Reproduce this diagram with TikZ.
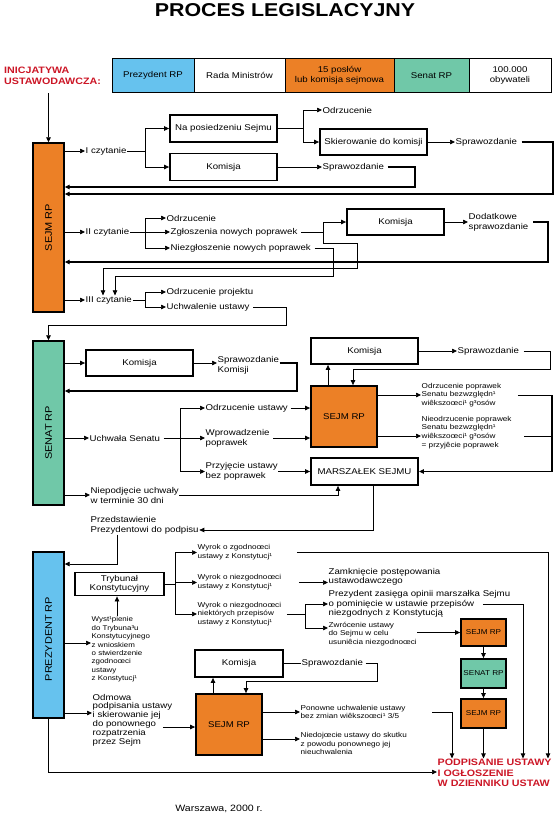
\documentclass[tikz,border=0pt]{standalone}
\usepackage{fontspec}
\setmainfont{Liberation Sans}[FakeStretch=1.15]
\usetikzlibrary{arrows.meta}
\definecolor{sejmorange}{RGB}{236,128,38}
\definecolor{prezblue}{RGB}{102,194,238}
\definecolor{senatgreen}{RGB}{112,200,168}
\definecolor{inired}{RGB}{204,22,38}
\newcommand\fmain{\fontsize{8.4}{10}\selectfont}
\newcommand\fsmall{\fontsize{7.1}{8.8}\selectfont}
\newcommand\fside{\fontsize{9.5}{11}\selectfont}
\newcommand\fred{\fontsize{9.3}{10.6}\selectfont\bfseries}
\tikzset{
  box/.style={draw, line width=1.8pt, inner sep=1pt, font=\fmain, align=center},
  sidebar/.style={draw, line width=1.4pt, minimum width=31pt},
  barbox/.style={draw, line width=1pt, minimum height=34pt, inner sep=1pt, font=\fmain, align=center},
  lbl/.style={anchor=west, inner sep=0.5pt, font=\fmain, align=left},
  slbl/.style={lbl, font=\fsmall},
  ln/.style={line width=0.7pt},
  arr/.style={ln, -{Triangle[length=5pt,width=4.5pt]}},
  ret/.style={line width=1.2pt},
}
\begin{document}
\begin{tikzpicture}[x=1pt,y=1pt,yscale=-1]
\useasboundingbox (0,0) rectangle (555,815);

%Title
\node (title) [anchor=base, font=\fontsize{18.6}{20}\selectfont\bfseries] at (285,16) {PROCES LEGISLACYJNY};

%Initiative bar
\node (initxt) [lbl, font=\fred, text=inired, inner sep=0pt] at (4,75.5) {INICJATYWA\\USTAWODAWCZA:};
\node (iprez) [barbox, fill=prezblue, minimum width=82pt] at (153,75.5) {Prezydent RP};
\node (irada) [barbox, minimum width=91pt] at (239.5,75.5) {Rada Ministrów};
\node (iposl) [barbox, fill=sejmorange, minimum width=109pt] at (339.5,75.5) {15 posłów\\lub komisja sejmowa};
\node (isen) [barbox, fill=senatgreen, minimum width=75pt] at (431.5,75.5) {Senat RP};
\node (iobyw) [barbox, minimum width=82pt] at (510,75.5) {100.000\\obywateli};
\coordinate (inistart) at (48.5,93);

%Sejm RP
\node (sejmbar) [sidebar, fill=sejmorange, minimum height=169pt] at (48.5,227.5) {};
\node (sejmtxt) [rotate=90, font=\fside] at (48.5,227.5) {SEJM RP};
\draw[arr] (inistart) -- (sejmbar.north);

%I czytanie
\node (czyt1) [lbl] at (85,151) {I czytanie};
\node (posiedz) [box, minimum width=107pt, minimum height=27pt] at (223.5,128.5) {Na posiedzeniu Sejmu};
\node (kom1) [box, minimum width=107pt, minimum height=27pt] at (223.5,167) {Komisja};
\node (odrz1) [lbl] at (322,110) {Odrzucenie};
\node (skier) [box, minimum width=107pt, minimum height=26pt] at (373.5,142) {Skierowanie do komisji};
\node (spr1) [lbl] at (455,142) {Sprawozdanie};
\node (spr2) [lbl] at (322,167) {Sprawozdanie};
\coordinate (br1) at (145,151);
\coordinate (br2) at (303,128.5);
\draw[arr] (sejmbar.east |- czyt1.west) -- (czyt1.west);
\draw[ln] (czyt1.east) -- (br1);
\draw[arr] (br1) |- (posiedz.west);
\draw[arr] (br1) |- (kom1.west);
\draw[ln] (posiedz.east) -- (br2);
\draw[arr] (br2) |- (odrz1.west);
\draw[arr] (br2) |- (skier.west);
\draw[arr] (skier.east) -- (spr1.west);
\draw[arr] (kom1.east) -- (spr2.west);
\draw[arr,ret,shorten <=4pt] (spr1.east) -- (553,142) |- (sejmbar.east |- 0,194);
\draw[arr,ret,shorten <=3pt] (spr2.east) -- (415,167) |- (sejmbar.east |- 0,187);

%II czytanie
\node (czyt2) [lbl] at (85,232) {II czytanie};
\node (odrz2) [lbl] at (166,218) {Odrzucenie};
\node (zglo) [lbl] at (170,232) {Zgłoszenia nowych poprawek};
\node (niezglo) [lbl] at (170,248) {Niezgłoszenie nowych poprawek};
\node (kom2) [box, minimum width=97pt, minimum height=26pt] at (395.5,222) {Komisja};
\node (dodat) [lbl] at (468,222) {Dodatkowe\\sprawozdanie};
\coordinate (br3) at (145,232);
\coordinate (br4) at (323,232);
\draw[arr] (sejmbar.east |- czyt2.west) -- (czyt2.west);
\draw[ln] (czyt2.east) -- (br3);
\draw[arr] (br3) |- (odrz2.west);
\draw[arr] (br3) -- (zglo.west);
\draw[arr] (br3) |- (niezglo.west);
\draw[ln,shorten <=3pt] (zglo.east) -- (br4);
\draw[arr] (br4) |- (kom2.west);
\draw[arr] (kom2.east) -- (dodat.west);
\draw[arr,ret,shorten <=4pt] (dodat.east) -| (548,262) -- (sejmbar.east |- 0,262);

%III czytanie
\node (czyt3) [lbl] at (85,300) {III czytanie};
\node (odrzproj) [lbl] at (166,292) {Odrzucenie projektu};
\node (uchw) [lbl] at (166,307) {Uchwalenie ustawy};
\coordinate (br5) at (145,300);
\draw[arr] (br4) -- (323,243) -- (357,243) |- (103,268) -- (103,0 |- czyt3.north);
\draw[arr,shorten <=3pt] (niezglo.east) -- (333,248) |- (115,276) -- (115,0 |- czyt3.north);
\draw[arr] (sejmbar.east |- czyt3.west) -- (czyt3.west);
\draw[ln] (czyt3.east) -- (br5);
\draw[arr] (br5) |- (odrzproj.west);
\draw[arr] (br5) |- (uchw.west);

%Senat RP
\node (senatbar) [sidebar, fill=senatgreen, minimum height=164pt] at (48.5,423) {};
\node (senattxt) [rotate=90, font=\fside] at (48.5,433) {SENAT RP};
\draw[arr,shorten <=3pt] (uchw.east) -- (286,307) |- (48.5,325) -- (senatbar.north);
\node (kom3) [box, minimum width=107pt, minimum height=26pt] at (139.5,363) {Komisja};
\node (sprkom) [lbl] at (217,365) {Sprawozdanie\\Komisji};
\draw[arr] (senatbar.east |- kom3.west) -- (kom3.west);
\draw[arr] (kom3.east) -- (kom3.east -| sprkom.west);
\draw[arr,ret] (kom3.east -| sprkom.east) -- (297,363) |- (senatbar.east |- 0,391);

\node (uchsen) [lbl] at (89,438) {Uchwała Senatu};
\node (odrzust) [lbl] at (205,408) {Odrzucenie ustawy};
\node (wprow) [lbl] at (205,438) {Wprowadzenie\\poprawek};
\node (przyj) [lbl] at (205,471.5) {Przyjęcie ustawy\\bez poprawek};
\node (niepodj) [lbl] at (90,495) {Niepodjęcie uchwały\\w terminie 30 dni};
\coordinate (br6) at (180,438);
\draw[arr] (senatbar.east |- uchsen.west) -- (uchsen.west);
\draw[ln,shorten <=3pt] (uchsen.east) -- (br6);
\draw[arr] (br6) |- (odrzust.west);
\draw[arr] (br6) -- (wprow.west);
\draw[arr] (br6) |- (przyj.west);
\draw[arr] (senatbar.east |- niepodj.west) -- (niepodj.west);

%Sejm RP after the Senate
\node (sejm2) [box, fill=sejmorange, minimum width=66pt, minimum height=61pt] at (344,416.5) {SEJM RP};
\node (kom4) [box, minimum width=107pt, minimum height=26pt] at (364.5,351) {Komisja};
\node (marsz) [box, minimum width=107pt, minimum height=27pt] at (364.5,471.5) {MARSZAŁEK SEJMU};
\node (spr3) [lbl] at (457,351) {Sprawozdanie};
\node (odrzpop) [slbl] at (421,395) {Odrzucenie poprawek\\Senatu bezwzględn¹\\wiêkszoœci¹ g³osów};
\node (nieodrz) [slbl] at (421,432.5) {Nieodrzucenie poprawek\\Senatu bezwzględn¹\\wiêkszoœci¹ g³osów\\= przyjêcie poprawek};
\draw[arr,shorten <=2pt] (odrzust.east) -- (odrzust.east -| sejm2.west);
\draw[arr,shorten <=3pt] (wprow.east) -- (wprow.east -| sejm2.west);
\draw[arr] (przyj.east) -- (marsz.west);
\draw[arr] (niepodj.east) -| (338,0 |- marsz.south);
\draw[arr] (328,0 |- sejm2.north) -- (328,0 |- kom4.south);
\draw[arr] (kom4.east) -- (spr3.west);
\draw[arr,shorten <=4pt] (spr3.east) -- (550,351) |- (353,369) -- (353,0 |- sejm2.north);
\draw[arr] (sejm2.east |- odrzpop.west) -- (odrzpop.west);
\draw[arr] (sejm2.east |- 0,436) -- (nieodrz.west |- 0,436);
\draw[ln,shorten <=16pt] (odrzpop.east) -- (552,395);
\draw[arr,ret] (552,395) |- (marsz.east);
\draw[ln,shorten <=12pt] (nieodrz.east |- 0,436) -- (552,436);

%Przedstawienie
\node (przed) [lbl] at (90,525) {Przedstawienie\\Prezydentowi do podpisu};
\draw[arr] (373,0 |- marsz.south) -- (373,530) -- (przed.east |- 0,530);

%Prezydent RP
\node (prezbar) [sidebar, fill=prezblue, minimum height=166pt] at (48.5,635) {};
\node (preztxt) [rotate=90, font=\fside] at (48.5,639) {PREZYDENT RP};
\draw[arr] (117,0 |- przed.south) |- (prezbar.east |- 0,564);
\node (tryb) [box, minimum width=89pt, minimum height=23pt, font=\fontsize{8.4}{9.5}\selectfont] at (119.5,584) {Trybunał\\Konstytucyjny};
\node (wyst) [slbl, font=\fontsize{6.9}{8.4}\selectfont] at (91,649.5) {Wyst¹pienie\\do Trybuna³u\\Konstytucyjnego\\z wnioskiem\\o stwierdzenie\\zgodnoœci\\ustawy\\z Konstytucj¹};
\draw[arr] (117,0 |- wyst.north) -- (117,0 |- tryb.south);
\draw[arr] (prezbar.east |- 0,643) -- (wyst.west |- 0,643);

\node (wyr1) [slbl] at (197,552.5) {Wyrok  o zgodnoœci\\ustawy z Konstytucj¹};
\node (wyr2) [slbl] at (197,582.5) {Wyrok o niezgodnoœci\\ustawy z Konstytucj¹};
\node (wyr3) [slbl] at (197,614) {Wyrok o niezgodnoœci\\niektórych przepisów\\ustawy z Konstytucj¹};
\coordinate (br7) at (175,584);
\draw[ln] (tryb.east) -- (br7);
\draw[arr] (br7) |- (wyr1.west);
\draw[arr] (br7) |- (wyr2.west);
\draw[arr] (br7) |- (wyr3.west);

\node (zamk) [lbl, font=\fontsize{8.4}{9.4}\selectfont] at (328,577) {Zamknięcie postępowania\\ustawodawczego};
\node (prezz) [lbl, font=\fontsize{8.4}{9.6}\selectfont] at (328,604) {Prezydent zasięga opinii marszałka Sejmu\\o pominięcie w ustawie przepisów\\niezgodnych z Konstytucją};
\node (zwroc) [slbl] at (328,634) {Zwrócenie ustawy\\do Sejmu w celu\\usuniêcia niezgodnoœci};
\coordinate (br8) at (305,614);
\draw[arr,shorten <=17pt] (wyr2.east) -- (wyr2.east -| zamk.west);
\draw[ln,shorten <=5pt] (wyr3.east) -- (br8);
\draw[arr] (br8) |- (prezz.west);
\draw[arr] (br8) |- (zwroc.west |- 0,628);

%Podpisanie
\node (podp) [lbl, font=\fred, text=inired] at (437,773) {PODPISANIE USTAWY\\I OGŁOSZENIE\\W DZIENNIKU USTAW};

%small boxes on the right
\node (sejm3) [box, fill=sejmorange, minimum width=45pt, minimum height=27pt, font=\fsmall] at (483.5,632.5) {SEJM RP};
\node (senat3) [box, fill=senatgreen, minimum width=45pt, minimum height=29pt, font=\fsmall] at (483.5,673.5) {SENAT RP};
\node (sejm4) [box, fill=sejmorange, minimum width=45pt, minimum height=29pt, font=\fsmall] at (483.5,713.5) {SEJM RP};
\draw[arr] (zwroc.east |- sejm3.west) -- (sejm3.west);
\draw[arr] (sejm3.south) -- (senat3.north);
\draw[arr] (senat3.south) -- (sejm4.north);
\draw[arr] (sejm4.south) -- (sejm4.south |- podp.north);
\draw[arr,shorten <=24pt] (wyr1.east) -| (548,0 |- podp.north);
\draw[arr] ([xshift=-28pt]prezz.east) -| (523,0 |- podp.north);

%Odmowa podpisania
\node (kom5) [box, minimum width=88pt, minimum height=27pt] at (239,663.5) {Komisja};
\node (sejm5) [box, fill=sejmorange, minimum width=66pt, minimum height=61pt] at (229,724.5) {SEJM RP};
\node (spr4) [lbl] at (301,663.5) {Sprawozdanie};
\node (odmowa) [lbl, font=\fontsize{8.4}{8.8}\selectfont] at (92,720) {Odmowa\\podpisania ustawy\\i skierowanie jej\\do ponownego\\rozpatrzenia\\przez Sejm};
\node (ponow) [slbl] at (300,712) {Ponowne uchwalenie ustawy\\bez zmian wiêkszoœci¹ 3/5};
\node (niedoj) [slbl] at (300,743.5) {Niedojœcie ustawy do skutku\\z powodu ponownego jej\\nieuchwalenia};
\draw[arr] (213,0 |- sejm5.north) -- (213,0 |- kom5.south);
\draw[ln] (kom5.east) -- (spr4.west);
\draw[arr,shorten <=2pt] (spr4.east) -- (377,663.5) |- (246,681) -- (246,0 |- sejm5.north);
\draw[arr] (prezbar.east |- 0,713) -- (odmowa.west |- 0,713);
\draw[arr,shorten <=-10pt] (odmowa.east |- 0,727) -- (sejm5.west |- 0,727);
\draw[arr] (sejm5.east |- ponow.west) -- (ponow.west);
\draw[arr] (sejm5.east |- 0,739) -- (niedoj.west |- 0,739);
\draw[arr,shorten <=26pt] (ponow.east) -| (452,0 |- podp.north);
\draw[arr] (prezbar.south) |- (podp.west |- 0,772);

%Footer
\node (warsz) [font=\fontsize{9.2}{11}\selectfont] at (219,809) {Warszawa, 2000 r.};
\end{tikzpicture}
\end{document}
